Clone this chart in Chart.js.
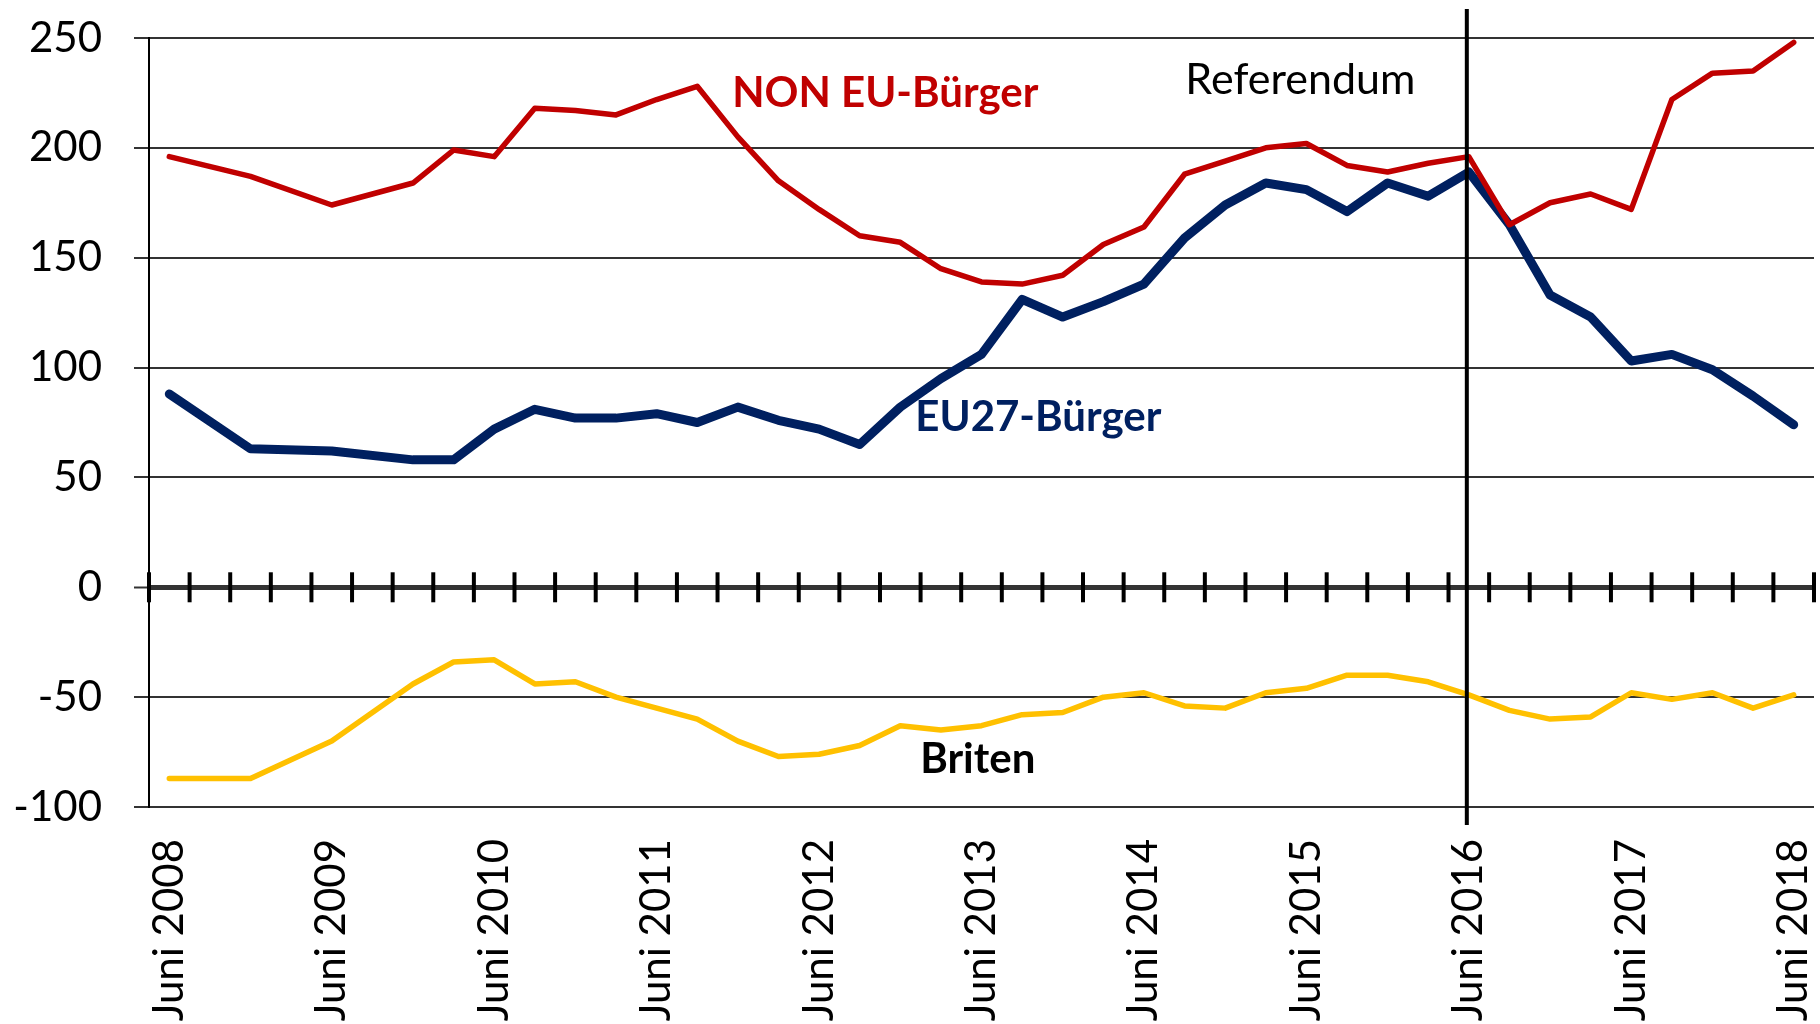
<!DOCTYPE html>
<html>
<head>
<meta charset="utf-8">
<script src="https://cdn.jsdelivr.net/npm/chart.js@4.4.1/dist/chart.umd.min.js"></script>
<style>
    html, body { margin: 0; padding: 0; background: #ffffff; }
    #wrap { width: 1820px; height: 1024px; }
</style>
</head>
<body>
<div id="wrap"><canvas id="chart" width="1820" height="1024"></canvas></div>
<script>
// Quartale Juni 2008 - Juni 2018
let categories = [
    'Juni 2008', 'Sep. 2008', 'Dez. 2008', 'März 2009',
    'Juni 2009', 'Sep. 2009', 'Dez. 2009', 'März 2010',
    'Juni 2010', 'Sep. 2010', 'Dez. 2010', 'März 2011',
    'Juni 2011', 'Sep. 2011', 'Dez. 2011', 'März 2012',
    'Juni 2012', 'Sep. 2012', 'Dez. 2012', 'März 2013',
    'Juni 2013', 'Sep. 2013', 'Dez. 2013', 'März 2014',
    'Juni 2014', 'Sep. 2014', 'Dez. 2014', 'März 2015',
    'Juni 2015', 'Sep. 2015', 'Dez. 2015', 'März 2016',
    'Juni 2016', 'Sep. 2016', 'Dez. 2016', 'März 2017',
    'Juni 2017', 'Sep. 2017', 'Dez. 2017', 'März 2018',
    'Juni 2018'
];

// in den ersten Jahren nur halbjaehrliche Werte (null = keine Angabe)
let nonEuData = [
    196, null, 187, null, 174, null, 184, 199, 196, 218,
    217, 215, 222, 228, 205, 185, 172, 160, 157, 145,
    139, 138, 142, 156, 164, 188, 194, 200, 202, 192,
    189, 193, 196, 165, 175, 179, 172, 222, 234, 235,
    248
];

let eu27Data = [
    88, null, 63, null, 62, null, 58, 58, 72, 81,
    77, 77, 79, 75, 82, 76, 72, 65, 82, 95,
    106, 131, 123, 130, 138, 159, 174, 184, 181, 171,
    184, 178, 189, 165, 133, 123, 103, 106, 99, 87,
    74
];

let britenData = [
    -87, null, -87, null, -70, null, -44, -34, -33, -44,
    -43, -50, -55, -60, -70, -77, -76, -72, -63, -65,
    -63, -58, -57, -50, -48, -54, -55, -48, -46, -40,
    -40, -43, -49, -56, -60, -59, -48, -51, -48, -55,
    -49
];

let tickLabels = ['Juni 2008', 'Juni 2009', 'Juni 2010', 'Juni 2011', 'Juni 2012', 'Juni 2013',
                  'Juni 2014', 'Juni 2015', 'Juni 2016', 'Juni 2017', 'Juni 2018'];

let referendumIndex = 32;

// Beschriftungen im Diagramm (Position in Daten-Einheiten: Kategorie-Index, Wert)
let annotations = [
    { text: 'NON EU-Bürger', x: 13.86, y: 218.5, color: '#C00000', font: 'bold 42px Lato' },
    { text: 'EU27-Bürger',   x: 18.37, y: 71,    color: '#002060', font: 'bold 42px Lato' },
    { text: 'Briten',        x: 18.49, y: -84.5, color: '#000000', font: 'bold 42px Lato' },
    { text: 'Referendum',    x: 25.02, y: 224.3, color: '#000000', font: '43px Lato' }
];

//=======================================================//
const zeroAxisPlugin = {
    id: 'zeroAxis',
    afterDatasetsDraw(chart) {
        let ctx = chart.ctx;
        let xs = chart.scales.x;
        let ys = chart.scales.y;
        let y0 = ys.getPixelForValue(0);
        ctx.save();
        ctx.strokeStyle = '#000000';
        ctx.lineWidth = 4;
        for (let i = 0; i <= categories.length; i++) {
            let x = xs.getPixelForValue(i - 0.5);
            ctx.beginPath();
            ctx.moveTo(x, y0 - 15);
            ctx.lineTo(x, y0 + 15);
            ctx.stroke();
        }
        ctx.restore();
    }
};

const referendumPlugin = {
    id: 'referendum',
    afterDatasetsDraw(chart) {
        let ctx = chart.ctx;
        let xs = chart.scales.x;
        let area = chart.chartArea;
        let x = xs.getPixelForValue(referendumIndex) - 2;
        ctx.save();
        ctx.strokeStyle = '#000000';
        ctx.lineWidth = 4;
        ctx.beginPath();
        ctx.moveTo(x, area.top - 29);
        ctx.lineTo(x, area.bottom + 18);
        ctx.stroke();
        ctx.restore();
    }
};

const textPlugin = {
    id: 'texts',
    afterDraw(chart) {
        let ctx = chart.ctx;
        let xs = chart.scales.x;
        let ys = chart.scales.y;
        ctx.save();
        ctx.textAlign = 'left';
        ctx.textBaseline = 'alphabetic';
        annotations.forEach(function (a) {
            ctx.font = a.font;
            ctx.fillStyle = a.color;
            ctx.fillText(a.text, xs.getPixelForValue(a.x), ys.getPixelForValue(a.y));
        });
        ctx.restore();
    }
};

function showLineChart() {
    let ctx = document.getElementById('chart').getContext('2d');

    let data = {
        labels: categories,
        datasets: [
            {
                label: 'NON EU-Bürger',
                data: nonEuData,
                borderColor: '#C00000',
                borderWidth: 5.5
            },
            {
                label: 'EU27-Bürger',
                data: eu27Data,
                borderColor: '#002060',
                borderWidth: 9
            },
            {
                label: 'Briten',
                data: britenData,
                borderColor: '#FFC000',
                borderWidth: 5.5
            }
        ]
    };

    new Chart(ctx, {
        type: 'line',
        data: data,
        options: {
            responsive: false,
            maintainAspectRatio: false,
            animation: false,
            spanGaps: true,
            layout: {
                padding: { top: 38, right: 6, left: 0, bottom: 0 }
            },
            elements: {
                point: { radius: 0, hoverRadius: 0 },
                line: { tension: 0, borderCapStyle: 'round', borderJoinStyle: 'round' }
            },
            scales: {
                x: {
                    type: 'category',
                    offset: true,
                    grid: { display: false, drawTicks: false },
                    border: { display: false },
                    ticks: {
                        autoSkip: false,
                        maxRotation: 90,
                        minRotation: 90,
                        padding: 32,
                        color: '#000000',
                        font: { family: 'Lato', size: 42 },
                        callback: function (val, i) {
                            return tickLabels.includes(categories[i]) ? categories[i] : '';
                        }
                    },
                    afterFit: function (scale) {
                        scale.height = 217;
                        scale.paddingLeft = 0;
                        scale.paddingRight = 0;
                    }
                },
                y: {
                    min: -100,
                    max: 250,
                    ticks: {
                        stepSize: 50,
                        padding: 32,
                        color: '#000000',
                        font: { family: 'Lato', size: 42 }
                    },
                    grid: {
                        color: '#333333',
                        lineWidth: function (c) { return c.tick && c.tick.value === 0 ? 5 : 2; },
                        tickLength: 15,
                        tickWidth: 2,
                        tickColor: '#333333'
                    },
                    border: { display: true, color: '#000000', width: 2 },
                    afterFit: function (scale) {
                        scale.width = 149;
                        scale.paddingTop = 0;
                        scale.paddingBottom = 0;
                    }
                }
            },
            plugins: {
                legend: { display: false },
                tooltip: { enabled: false }
            }
        },
        plugins: [zeroAxisPlugin, referendumPlugin, textPlugin]
    });
}

showLineChart();
</script>
</body>
</html>
